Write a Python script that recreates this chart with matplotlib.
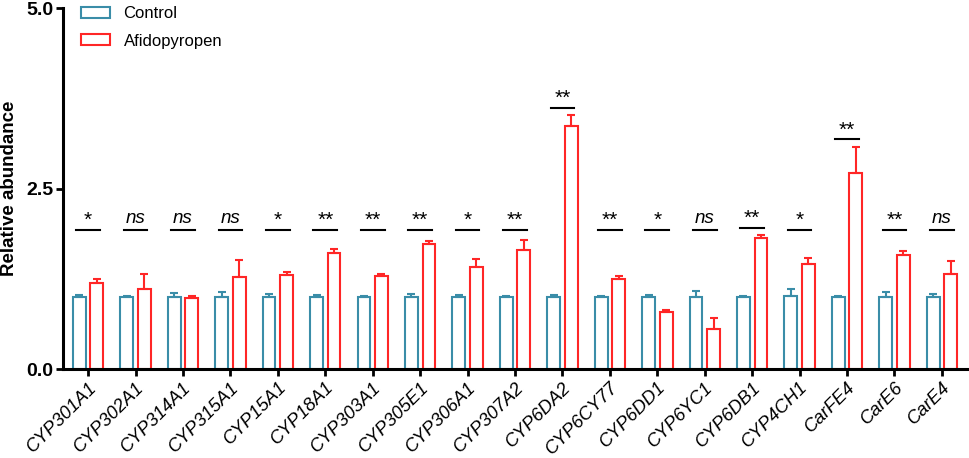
import numpy as np
import matplotlib
matplotlib.use("Agg")
import matplotlib.pyplot as plt
from matplotlib.patches import Patch

plt.rcParams['font.family'] = ['Liberation Sans', 'DejaVu Sans']

genes = ['CYP301A1', 'CYP302A1', 'CYP314A1', 'CYP315A1', 'CYP15A1', 'CYP18A1',
         'CYP303A1', 'CYP305E1', 'CYP306A1', 'CYP307A2', 'CYP6DA2', 'CYP6CY77',
         'CYP6DD1', 'CYP6YC1', 'CYP6DB1', 'CYP4CH1', 'CarFE4', 'CarE6', 'CarE4']
control = [1.0, 1.0, 1.0, 1.0, 1.0, 1.0, 1.0, 1.0, 1.0, 1.0,
           1.0, 1.0, 1.0, 1.0, 1.0, 1.01, 1.0, 1.0, 1.0]
control_err = [0.02, 0.01, 0.05, 0.07, 0.04, 0.03, 0.01, 0.04, 0.02, 0.01,
               0.03, 0.01, 0.03, 0.08, 0.01, 0.10, 0.01, 0.07, 0.04]
afido = [1.19, 1.11, 0.99, 1.28, 1.30, 1.60, 1.29, 1.73, 1.41, 1.65,
         3.37, 1.24, 0.79, 0.55, 1.81, 1.46, 2.71, 1.58, 1.31]
afido_err = [0.05, 0.20, 0.02, 0.23, 0.05, 0.06, 0.02, 0.04, 0.12, 0.14,
             0.15, 0.05, 0.03, 0.16, 0.04, 0.08, 0.37, 0.05, 0.18]
marks = ['*', 'ns', 'ns', 'ns', '*', '**', '**', '**', '*', '**',
         '**', '**', '*', 'ns', '**', '*', '**', '**', 'ns']

teal = '#3A8DA8'
red = '#FF2626'

fig = plt.figure(figsize=(9.69, 4.58), dpi=100)
ax = fig.add_axes([0.065, 0.1943, 0.933, 0.7882])

x = np.arange(len(genes))
w = 0.27
off = 0.185

ax.bar(x - off, control, w, facecolor='white', edgecolor=teal, linewidth=1.5,
       yerr=[np.zeros(len(x)), control_err],
       error_kw=dict(ecolor=teal, elinewidth=1.5, capsize=3, capthick=1.5))
ax.bar(x + off, afido, w, facecolor='white', edgecolor=red, linewidth=1.5,
       yerr=[np.zeros(len(x)), afido_err],
       error_kw=dict(ecolor=red, elinewidth=1.5, capsize=3, capthick=1.5))

# significance bars
for i, m in enumerate(marks):
    top = afido[i] + afido_err[i]
    ly = max(1.93, top + 0.1)
    ax.plot([i - 0.25, i + 0.25], [ly, ly], color='black', lw=1.5)
    if m == 'ns':
        ax.text(i, ly + 0.04, m, ha='center', va='bottom', fontsize=13.5, style='italic')
    else:
        ax.text(i, ly + 0.0, m, ha='center', va='bottom', fontsize=15)

ax.set_xlim(-0.53, len(genes) - 0.47)
ax.set_ylim(0, 5)
ax.set_yticks([0, 2.5, 5.0])
ax.set_yticklabels(['0.0', '2.5', '5.0'], fontsize=14, fontweight='bold')
ax.set_xticks(x)
ax.set_xticklabels(genes, rotation=45, ha='right', rotation_mode='anchor',
                   fontsize=13.3, style='italic')
ax.set_ylabel('Relative abundance', fontsize=13.5, fontweight='bold', labelpad=6)

for s in ['top', 'right']:
    ax.spines[s].set_visible(False)
for s in ['left', 'bottom']:
    ax.spines[s].set_linewidth(2.2)
ax.tick_params(axis='both', width=2, length=5, pad=2)

handles = [Patch(facecolor='white', edgecolor=teal, linewidth=1.5, label='Control'),
           Patch(facecolor='white', edgecolor=red, linewidth=1.5, label='Afidopyropen')]
ax.legend(handles=handles, loc='upper left', bbox_to_anchor=(0.02, 1.005),
          frameon=False, fontsize=12, handlelength=1.75, handleheight=0.65,
          handletextpad=0.8, borderpad=0, borderaxespad=0, labelspacing=0.75)

fig.savefig('out.png', dpi=100)
